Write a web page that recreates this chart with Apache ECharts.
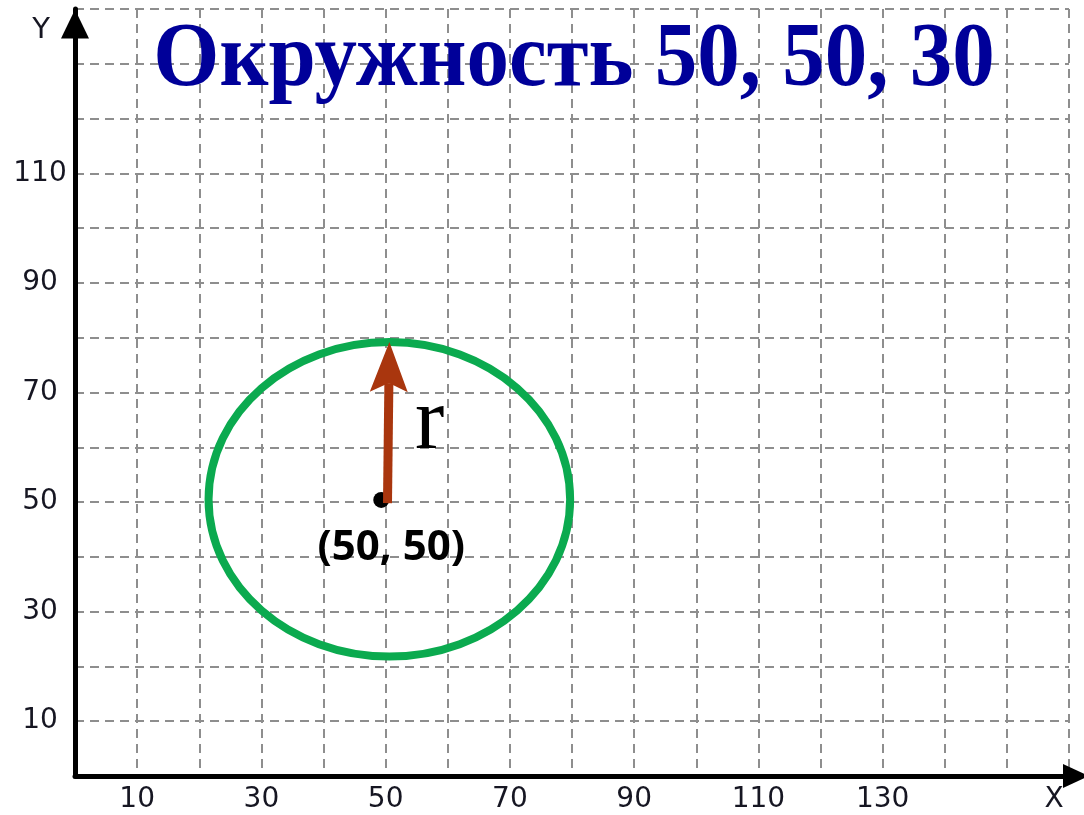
<!DOCTYPE html>
<html><head><meta charset="utf-8">
<script src="https://cdn.jsdelivr.net/npm/echarts@6/dist/echarts.min.js"></script>
<style>html,body{margin:0;padding:0;background:#fff}#c{width:1084px;height:815px}</style>
</head><body><div id="c"></div>
<script>
const titleText = 'Окружность 50, 50, 30';
const xLabels = [10, 30, 50, 70, 90, 110, 130];
const yLabels = [10, 30, 50, 70, 90, 110];
const xName = 'X';
const yName = 'Y';
const circleCenter = [50.6, 50.5];
const circleRadius = [29.1, 28.7];
const centerPoint = [49.3, 50.4];
const arrowStart = [50.3, 49.8];
const arrowEnd = [50.6, 79.2];
const centerLabel = '(50, 50)';
const centerLabelPos = [50.9, 41.6];
const radiusLabel = 'r';
const radiusLabelPos = [57.1, 64.0];

const GREEN = '#0BAA4F', BROWN = '#A9360E', NAVY = '#000099';
const tickFont = {fontFamily: 'DejaVu Sans', fontSize: 28, color: '#161622'};
const gridLine = {show: true, lineStyle: {color: '#8e8e8e', width: 2, type: [9, 6]}};

const chart = echarts.init(document.getElementById('c'));
chart.setOption({
  animation: false,
  backgroundColor: '#fff',
  grid: {left: 75, right: 15, top: 9, bottom: 39, containLabel: false, outerBoundsMode: 'none'},
  xAxis: {
    type: 'value', min: 0, max: 160, interval: 10,
    axisLine: {show: true, onZero: false, lineStyle: {color: '#000', width: 5},
      symbol: ['none', 'triangle'], symbolSize: [24, 26], symbolOffset: [0, 7]},
    axisTick: {show: false},
    splitLine: gridLine,
    axisLabel: Object.assign({margin: 10, formatter: v => xLabels.includes(v) ? String(v) : ''}, tickFont)
  },
  yAxis: {
    type: 'value', min: 0, max: 140, interval: 10,
    axisLine: {show: true, onZero: false, lineStyle: {color: '#000', width: 5},
      symbol: ['none', 'triangle'], symbolSize: [28, 29], symbolOffset: [0, -15]},
    axisTick: {show: false},
    splitLine: gridLine,
    axisLabel: Object.assign({margin: 35, align: 'center', formatter: v => yLabels.includes(v) ? String(v) : ''}, tickFont)
  },
  graphic: [
    {type: 'text', x: 574, y: 61, scaleY: 1.08, z: 100, style: {text: titleText, font: 'bold 85px "Liberation Serif"', fill: NAVY, align: 'center', verticalAlign: 'middle'}},
    {type: 'text', x: 41, y: 30, z: 100, style: {text: yName, font: '29px "DejaVu Sans"', fill: '#161622', align: 'center', verticalAlign: 'middle'}},
    {type: 'text', x: 1054, y: 800, z: 100, style: {text: xName, font: '28px "DejaVu Sans"', fill: '#161622', align: 'center', verticalAlign: 'middle'}}
  ],
  series: [
    {
      type: 'custom', z: 2, silent: true,
      data: [[circleCenter[0], circleCenter[1], circleRadius[0], circleRadius[1]]],
      renderItem: function (params, api) {
        const c = api.coord([api.value(0), api.value(1)]);
        const s = api.size([api.value(2), api.value(3)]);
        return {type: 'ellipse', shape: {cx: c[0], cy: c[1], rx: s[0], ry: s[1]},
          style: {fill: 'none', stroke: GREEN, lineWidth: 8}};
      }
    },
    {
      type: 'scatter', z: 3, silent: true, symbol: 'circle', symbolSize: 16,
      itemStyle: {color: '#000', opacity: 1}, data: [centerPoint]
    },
    {
      type: 'custom', z: 4, silent: true,
      data: [[arrowStart[0], arrowStart[1], arrowEnd[0], arrowEnd[1]]],
      renderItem: function (params, api) {
        const p0 = api.coord([api.value(0), api.value(1)]);
        const p1 = api.coord([api.value(2), api.value(3)]);
        const dx = p1[0] - p0[0], dy = p1[1] - p0[1];
        const len = Math.hypot(dx, dy), ux = dx / len, uy = dy / len;
        const nx = -uy, ny = ux, headLen = 50, headW = 38, notch = 9;
        const bx = p1[0] - ux * headLen, by = p1[1] - uy * headLen;
        return {type: 'group', children: [
          {type: 'line', shape: {x1: p0[0], y1: p0[1], x2: bx + ux * notch, y2: by + uy * notch},
            style: {stroke: BROWN, lineWidth: 9}},
          {type: 'polygon', shape: {points: [
            [p1[0], p1[1]],
            [bx + nx * headW / 2, by + ny * headW / 2],
            [bx + ux * notch, by + uy * notch],
            [bx - nx * headW / 2, by - ny * headW / 2]
          ]}, style: {fill: BROWN}}
        ]};
      }
    },
    {
      type: 'scatter', z: 5, silent: true, symbolSize: 0,
      itemStyle: {opacity: 1},
      data: [
        {value: centerLabelPos, label: {show: true, position: 'inside', formatter: centerLabel,
          fontFamily: 'Open Sans', fontWeight: 'bold', fontSize: 42, color: '#000'}},
        {value: radiusLabelPos, label: {show: true, position: 'inside', formatter: radiusLabel,
          fontFamily: 'Liberation Serif', fontSize: 88, color: '#000'}}
      ]
    }
  ]
});
</script>
</body></html>
